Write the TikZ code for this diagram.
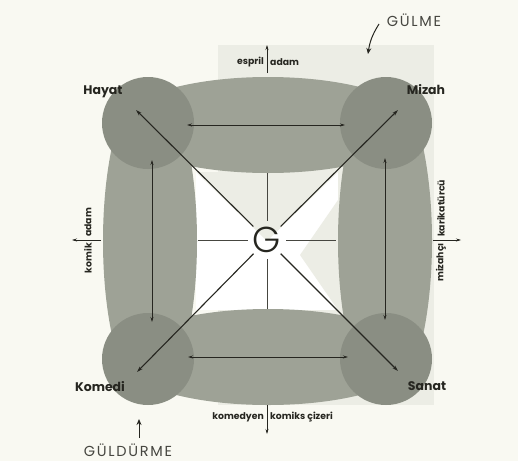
\documentclass[tikz,border=0pt]{standalone}
\usepackage{fontspec}
\setmainfont{Poppins}
\newfontfamily\spacedfont{Poppins}[LetterSpace=12]
\newfontfamily\glight{Poppins Light}
\usetikzlibrary{arrows.meta}
\definecolor{pagebg}{RGB}{249,249,242}
\definecolor{lightbg}{RGB}{236,237,229}
\definecolor{band}{RGB}{158,162,150}
\definecolor{corner}{RGB}{138,142,131}
\definecolor{ink}{RGB}{38,38,32}
\definecolor{softink}{RGB}{70,70,64}
\begin{document}
\begin{tikzpicture}[x=1pt,y=-1pt,
  tip/.style={-{Stealth[length=6pt,width=3.6pt]}},
  dbl/.style={{Stealth[length=5pt,width=3pt]}-{Stealth[length=5pt,width=3pt]}, ink, line width=0.7pt},
  diag/.style={tip, ink, line width=1.1pt},
  crossl/.style={softink, line width=0.5pt},
  axisarr/.style={-{Stealth[length=5pt,width=3pt]}, ink, line width=0.6pt},
  corner label/.style={font=\fontsize{12.5}{13}\selectfont\bfseries, text=ink, inner sep=0pt},
  small label/.style={font=\fontsize{9.3}{10}\selectfont\bfseries, text=ink, inner sep=1pt},
  big label/.style={font=\spacedfont\fontsize{14.5}{15}\selectfont, text=softink, inner sep=0pt}]
\useasboundingbox (0,0) rectangle (518,461);
\fill[pagebg] (0,0) rectangle (518,461);
\fill[lightbg] (218,45) rectangle (434,405);
% inner square
\fill[white] (196,172) rectangle (338,310);
\fill[lightbg] (196,172) -- (338,172) -- (267,241) -- cycle;
\fill[lightbg] (338,200) -- (338,310) -- (300,255) -- cycle;
% bands
\fill[band] (268,125) ellipse [x radius=150, y radius=48];
\fill[band] (268,357) ellipse [x radius=150, y radius=48];
\fill[band] (150,241) ellipse [x radius=47, y radius=160];
\fill[band] (385,241) ellipse [x radius=47, y radius=160];
% corners
\fill[corner] (148,123) ellipse [x radius=46, y radius=46];
\fill[corner] (386,123) ellipse [x radius=46, y radius=46];
\fill[corner] (148,359) ellipse [x radius=46, y radius=46];
\fill[corner] (386,359) ellipse [x radius=46, y radius=46];
% coordinates
\coordinate (tH) at (136,110);
\coordinate (tM) at (398,110);
\coordinate (tK) at (137,372);
\coordinate (tS) at (398,371);
\coordinate (sqT) at (267,173);
\coordinate (sqB) at (267,309);
\coordinate (sqL) at (198,240);
\coordinate (sqR) at (336,240);
\coordinate (a1) at (187,125); \coordinate (a2) at (345,125);
\coordinate (b1) at (188,357); \coordinate (b2) at (348,357);
\coordinate (c1) at (152,160); \coordinate (c2) at (152,322);
\coordinate (d1) at (385,158); \coordinate (d2) at (385,320);
\coordinate (upS) at (267,73); \coordinate (upE) at (267,45);
\coordinate (dnS) at (267,405); \coordinate (dnE) at (267,434);
\coordinate (lfS) at (101,240); \coordinate (lfE) at (72,240);
\coordinate (rtS) at (433,240); \coordinate (rtE) at (461,240);
\coordinate (gmS) at (379,24); \coordinate (gmE) at (368,54);
\coordinate (gdS) at (139,438); \coordinate (gdE) at (139,419);
% centre
\node[circle, inner sep=0pt, minimum size=34pt, font=\glight\fontsize{36}{36}\selectfont, text=ink] (G) at (267,240) {G};
\draw[crossl] (G) -- (sqT);
\draw[crossl] (G) -- (sqB);
\draw[crossl] (G) -- (sqL);
\draw[crossl] (G) -- (sqR);
\draw[diag] (G) -- (tH);
\draw[diag] (G) -- (tM);
\draw[diag] (G) -- (tK);
\draw[diag] (G) -- (tS);
% double arrows
\draw[dbl] (a1) -- (a2);
\draw[dbl] (b1) -- (b2);
\draw[dbl] (c1) -- (c2);
\draw[dbl] (d1) -- (d2);
% axes
\draw[axisarr] (upS) -- (upE);
\draw[axisarr] (dnS) -- (dnE);
\draw[axisarr] (lfS) -- (lfE);
\draw[axisarr] (rtS) -- (rtE);
\node[small label, anchor=east] (esp) at (265,62) {espril};
\node[small label, anchor=west] (ada) at (269,62) {adam};
\node[small label, anchor=east] (kmd) at (265,417) {komedyen};
\node[small label, anchor=west] (kmx) at (269,417) {komiks çizeri};
\node[small label, anchor=east, rotate=90] (kmk) at (88,242) {komik};
\node[small label, anchor=west, rotate=90] (ada2) at (88,238) {adam};
\node[small label, anchor=east, rotate=90] (miz) at (441,242) {mizahçı};
\node[small label, anchor=west, rotate=90] (kar) at (441,238) {karikatürcü};
% corner labels
\node[corner label] (hayat) at (103,92) {Hayat};
\node[corner label] (mizah) at (426,90) {Mizah};
\node[corner label] (komedi) at (100,387) {Komedi};
\node[corner label] (sanat) at (427,386) {Sanat};
% outer labels
\node[big label] (gulme) at (414,20) {GÜLME};
\node[big label] (guldurme) at (128,450) {GÜLDÜRME};
\draw[ink, line width=1pt, -{Stealth[length=6pt,width=5pt]}] (gmS) to[bend right=12] (gmE);
\draw[ink, line width=1pt, -{Stealth[length=6pt,width=5pt]}] (gdS) -- (gdE);
\end{tikzpicture}
\end{document}
